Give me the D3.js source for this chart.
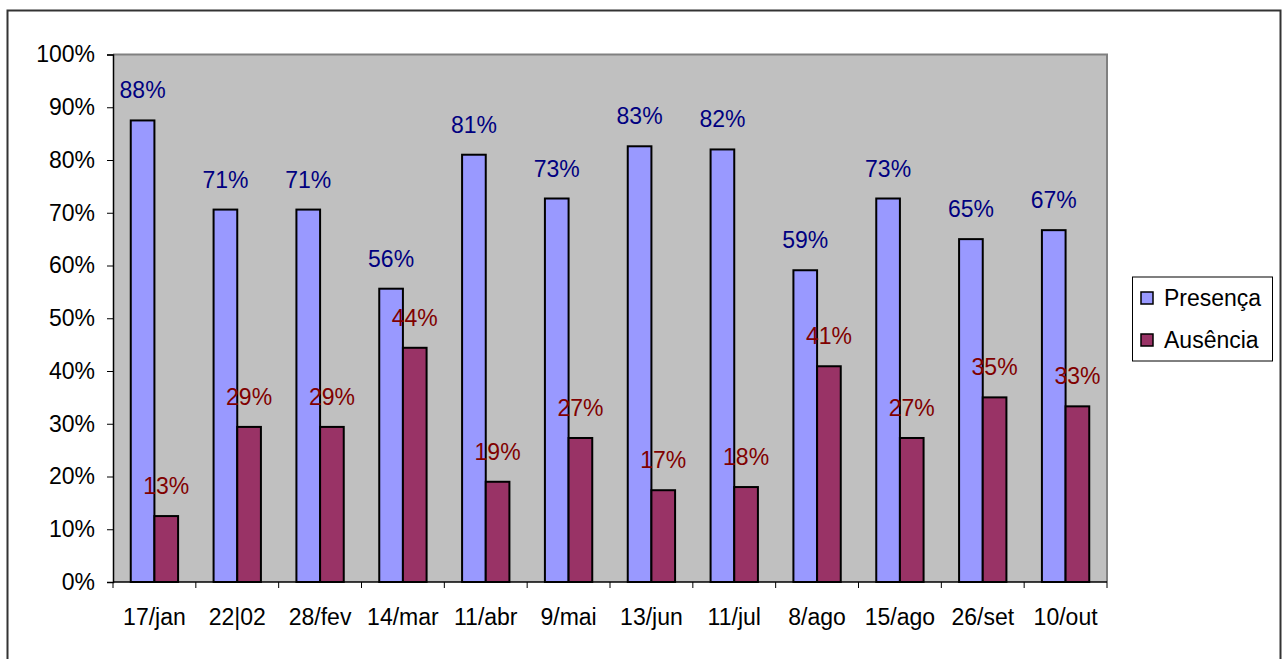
<!DOCTYPE html>
<html>
<head>
<meta charset="utf-8">
<script src="https://cdn.jsdelivr.net/npm/d3@7"></script>
<style>
  html, body { margin: 0; padding: 0; background: #fff; }
  svg { display: block; font-family: "Liberation Sans", Arial, sans-serif; }
</style>
</head>
<body>
<svg id="chart" width="1283" height="659"></svg>
<script>
// Attendance per meeting date
const categories = ["17/jan", "22|02", "28/fev", "14/mar", "11/abr", "9/mai", "13/jun", "11/jul", "8/ago", "15/ago", "26/set", "10/out"];
const presenca = [0.875, 0.706, 0.706, 0.556, 0.81, 0.727, 0.826, 0.82, 0.591, 0.727, 0.65, 0.667];
const ausencia = [0.125, 0.294, 0.294, 0.444, 0.19, 0.273, 0.174, 0.18, 0.409, 0.273, 0.35, 0.333];
const seriesNames = ["Presença", "Ausência"];
const yTicks = [0, 0.1, 0.2, 0.3, 0.4, 0.5, 0.6, 0.7, 0.8, 0.9, 1.0];

const fills = ["#9999FF", "#993366"];
const labelColors = ["#000080", "#800000"];
const fontSize = 23;

const svg = d3.select("#chart");
const plot = { left: 113, right: 1107, top: 54.5, bottom: 582 };

// chart frame
svg.append("rect")
  .attr("x", 7.5).attr("y", 10.5)
  .attr("width", 1273).attr("height", 700)
  .attr("fill", "#fff").attr("stroke", "#333").attr("stroke-width", 2);

const x = d3.scaleBand().domain(categories).range([plot.left, plot.right]).padding(0);
const y = d3.scaleLinear().domain([0, 1]).range([plot.bottom, plot.top]);

// plot area
svg.append("rect")
  .attr("x", plot.left).attr("y", plot.top)
  .attr("width", plot.right - plot.left).attr("height", plot.bottom - plot.top)
  .attr("fill", "#C0C0C0");
svg.append("path")
  .attr("d", `M${plot.left},${plot.top}H${plot.right}V${plot.bottom}`)
  .attr("fill", "none").attr("stroke", "#808080").attr("stroke-width", 2);

// bar geometry: two bars plus a 150% gap per category
const barW = x.bandwidth() / 3.5;
const inner = d3.scaleBand().domain(seriesNames).range([0, 2 * barW]).padding(0);

const table = categories.map((c, i) => ({ cat: c, values: [presenca[i], ausencia[i]] }));

const groups = svg.append("g").selectAll("g")
  .data(table).join("g")
  .attr("transform", d => `translate(${x(d.cat) + 0.75 * barW},0)`);

groups.selectAll("rect")
  .data(d => d.values.map((v, k) => ({ v, k })))
  .join("rect")
  .attr("x", d => inner(seriesNames[d.k]))
  .attr("y", d => y(d.v))
  .attr("width", inner.bandwidth())
  .attr("height", d => y(0) - y(d.v))
  .attr("fill", d => fills[d.k])
  .attr("stroke", "#000").attr("stroke-width", 2);

// axes
const yAxis = d3.axisLeft(y).tickValues(yTicks).tickSize(6).tickPadding(12)
  .tickFormat(d3.format(".0%"));
const yG = svg.append("g").attr("transform", `translate(${plot.left},0)`).call(yAxis);
yG.select(".domain").attr("stroke", "#000").attr("stroke-width", 1.5);
yG.selectAll(".tick line").attr("stroke", "#000");
yG.selectAll("text").attr("font-size", fontSize).attr("fill", "#000")
  .attr("font-family", "Liberation Sans, Arial, sans-serif");

const xG = svg.append("g").attr("transform", `translate(0,${plot.bottom})`)
  .call(d3.axisBottom(x).tickSize(0).tickPadding(0));
xG.select(".domain").remove();
xG.append("line").attr("x1", plot.left).attr("x2", plot.right)
  .attr("stroke", "#000").attr("stroke-width", 1.5);
xG.selectAll(".tick text").attr("font-size", fontSize).attr("fill", "#000")
  .attr("font-family", "Liberation Sans, Arial, sans-serif")
  .attr("dy", null).attr("y", 43);
// category boundary ticks
const bounds = categories.map(c => x(c)).concat([plot.right]);
xG.selectAll(".bound").data(bounds).join("line").attr("class", "bound")
  .attr("x1", d => d).attr("x2", d => d).attr("y1", 0).attr("y2", 6)
  .attr("stroke", "#000");

// value labels
groups.selectAll("text.val")
  .data(d => d.values.map((v, k) => ({ v, k })))
  .join("text").attr("class", "val")
  .attr("x", d => inner(seriesNames[d.k]) + inner.bandwidth() / 2)
  .attr("y", d => y(d.v) - 22)
  .attr("text-anchor", "middle")
  .attr("font-size", fontSize)
  .attr("fill", d => labelColors[d.k])
  .text(d => d3.format(".0%")(d.v));

// legend
const lg = svg.append("g");
lg.append("rect").attr("x", 1132.5).attr("y", 277).attr("width", 140).attr("height", 84)
  .attr("fill", "#fff").attr("stroke", "#000").attr("stroke-width", 1);
seriesNames.forEach((name, k) => {
  const cy = 298 + k * 42;
  lg.append("rect").attr("x", 1141).attr("y", cy - 6).attr("width", 12).attr("height", 12)
    .attr("fill", fills[k]).attr("stroke", "#000").attr("stroke-width", 1.5);
  lg.append("text").attr("x", 1164).attr("y", cy + 8)
    .attr("font-size", fontSize).attr("fill", "#000").text(name);
});
</script>
</body>
</html>
